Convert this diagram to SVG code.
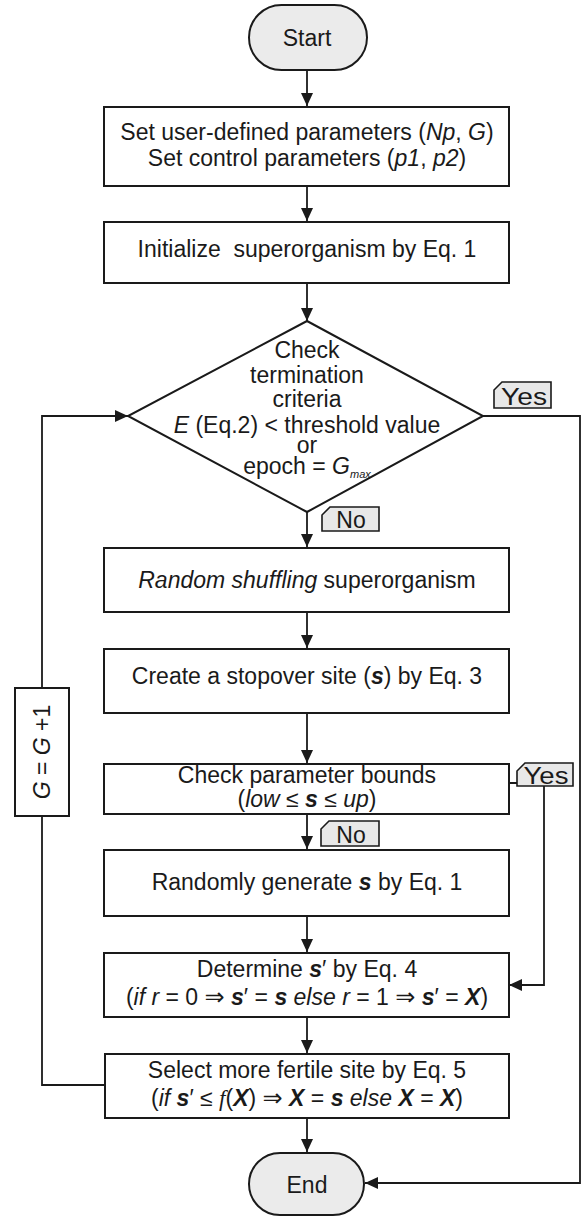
<svg xmlns="http://www.w3.org/2000/svg" width="581" height="1216" viewBox="0 0 581 1216">
<style>
text{font-family:"Liberation Sans",Arial,Helvetica,sans-serif;font-size:23px;fill:#1a1a1a;text-anchor:middle}
.box{fill:#fff;stroke:#1a1a1a;stroke-width:2}
.term{fill:#ebebeb;stroke:#1a1a1a;stroke-width:2}
.tag{fill:#e8e8e8;stroke:#1a1a1a;stroke-width:1.6}
.con{fill:none;stroke:#1a1a1a;stroke-width:1.8}
.i{font-style:italic}
.bi{font-style:italic;font-weight:bold}
.mf{font-family:"Liberation Serif","Times New Roman",serif;font-style:italic}
.ar{font-family:"DejaVu Sans",sans-serif;font-size:24px}
</style>
<defs>
<marker id="ah" markerUnits="userSpaceOnUse" markerWidth="14" markerHeight="12" refX="13" refY="6" orient="auto">
<path d="M0,0 L13,6 L0,12 Z" fill="#1a1a1a"/>
</marker>
</defs>

<g id="connectors">
<line class="con" x1="307" y1="70" x2="307" y2="106" marker-end="url(#ah)"/>
<line class="con" x1="307" y1="186" x2="307" y2="221" marker-end="url(#ah)"/>
<line class="con" x1="307" y1="283" x2="307" y2="321" marker-end="url(#ah)"/>
<line class="con" x1="307" y1="512" x2="307" y2="547" marker-end="url(#ah)"/>
<line class="con" x1="307" y1="612" x2="307" y2="648" marker-end="url(#ah)"/>
<line class="con" x1="307" y1="713" x2="307" y2="763" marker-end="url(#ah)"/>
<line class="con" x1="307" y1="814" x2="307" y2="849" marker-end="url(#ah)"/>
<line class="con" x1="307" y1="916" x2="307" y2="952" marker-end="url(#ah)"/>
<line class="con" x1="307" y1="1017" x2="307" y2="1053" marker-end="url(#ah)"/>
<line class="con" x1="307" y1="1118" x2="307" y2="1152" marker-end="url(#ah)"/>
<polyline class="con" points="483,416 580,416 580,1183 365,1183" marker-end="url(#ah)"/>
<polyline class="con" points="508,783 544,783 544,985 509,985" marker-end="url(#ah)"/>
<polyline class="con" points="105,1085 42,1085 42,816"/>
<polyline class="con" points="42,688 42,416 128,416" marker-end="url(#ah)"/>
</g>

<g id="start">
<rect class="term" x="249" y="5" width="118" height="65" rx="32.5"/>
<text x="307" y="46">Start</text>
</g>

<g id="set-params">
<rect class="box" x="104" y="107" width="405" height="79"/>
<text x="307" y="140">Set user-defined parameters (<tspan class="i">Np</tspan>, <tspan class="i">G</tspan>)</text>
<text x="307" y="166">Set control parameters (<tspan class="i">p1</tspan>, <tspan class="i">p2</tspan>)</text>
</g>

<g id="initialize">
<rect class="box" x="104" y="222" width="405" height="61"/>
<text x="307" y="257" xml:space="preserve">Initialize  superorganism by Eq. 1</text>
</g>

<g id="check-termination">
<polygon class="box" points="307,321 483,416 307,512 128,416"/>
<text x="307" y="358">Check</text>
<text x="307" y="383">termination</text>
<text x="307" y="407">criteria</text>
<text x="307" y="433"><tspan class="i">E</tspan> (Eq.2) &lt; threshold value</text>
<text x="307" y="453">or</text>
<text x="307" y="474">epoch = <tspan class="i">G</tspan><tspan class="i" font-size="11" dy="4">max</tspan></text>
</g>

<g id="tag-yes-1">
<path class="tag" d="M502,382 H551 V408 H494 V390 Z"/>
<text x="524" y="405" textLength="46" lengthAdjust="spacingAndGlyphs">Yes</text>
</g>

<g id="tag-no-1">
<path class="tag" d="M330,507 H379 V531 H322 V515 Z"/>
<text x="351" y="528">No</text>
</g>

<g id="shuffle">
<rect class="box" x="104" y="548" width="405" height="64"/>
<text x="307" y="588"><tspan class="i">Random shuffling</tspan> superorganism</text>
</g>

<g id="stopover">
<rect class="box" x="104" y="649" width="405" height="64"/>
<text x="307" y="684">Create a stopover site (<tspan class="bi">s</tspan>) by Eq. 3</text>
</g>

<g id="check-bounds">
<rect class="box" x="104" y="764" width="405" height="50"/>
<text x="307" y="783">Check parameter bounds</text>
<text x="307" y="807">(<tspan class="i">low</tspan> ≤ <tspan class="bi">s</tspan> ≤ <tspan class="i">up</tspan>)</text>
</g>

<g id="tag-yes-2">
<path class="tag" d="M525,763 H573 V786 H517 V771 Z"/>
<text x="546" y="784" textLength="45" lengthAdjust="spacingAndGlyphs">Yes</text>
</g>

<g id="tag-no-2">
<path class="tag" d="M329,821 H379 V846 H321 V829 Z"/>
<text x="351" y="843">No</text>
</g>

<g id="random-generate">
<rect class="box" x="104" y="850" width="405" height="66"/>
<text x="307" y="890">Randomly generate <tspan class="bi">s</tspan> by Eq. 1</text>
</g>

<g id="determine">
<rect class="box" x="104" y="953" width="405" height="64"/>
<text x="307" y="977">Determine <tspan class="bi">s</tspan>′ by Eq. 4</text>
<text x="307" y="1005">(<tspan class="i">if r</tspan> = 0 <tspan class="ar">⇒</tspan> <tspan class="bi">s</tspan>′ = <tspan class="bi">s</tspan> <tspan class="i">else r</tspan> = 1 <tspan class="ar">⇒</tspan> <tspan class="bi">s</tspan>′ = <tspan class="bi">X</tspan>)</text>
</g>

<g id="select">
<rect class="box" x="105" y="1054" width="404" height="64"/>
<text x="307" y="1078">Select more fertile site by Eq. 5</text>
<text x="307" y="1106">(<tspan class="i">if</tspan> <tspan class="bi">s</tspan>′ ≤ <tspan class="mf">f</tspan>(<tspan class="bi">X</tspan>) <tspan class="ar">⇒</tspan> <tspan class="bi">X</tspan> = <tspan class="bi">s</tspan> <tspan class="i">else</tspan> <tspan class="bi">X</tspan> = <tspan class="bi">X</tspan>)</text>
</g>

<g id="increment">
<rect class="box" x="15" y="688" width="54" height="128"/>
<text transform="translate(50,752) rotate(-90)"><tspan class="i">G</tspan> = <tspan class="i">G</tspan> +1</text>
</g>

<g id="end">
<rect class="term" x="249" y="1153" width="115" height="62" rx="31"/>
<text x="307" y="1193">End</text>
</g>
</svg>
